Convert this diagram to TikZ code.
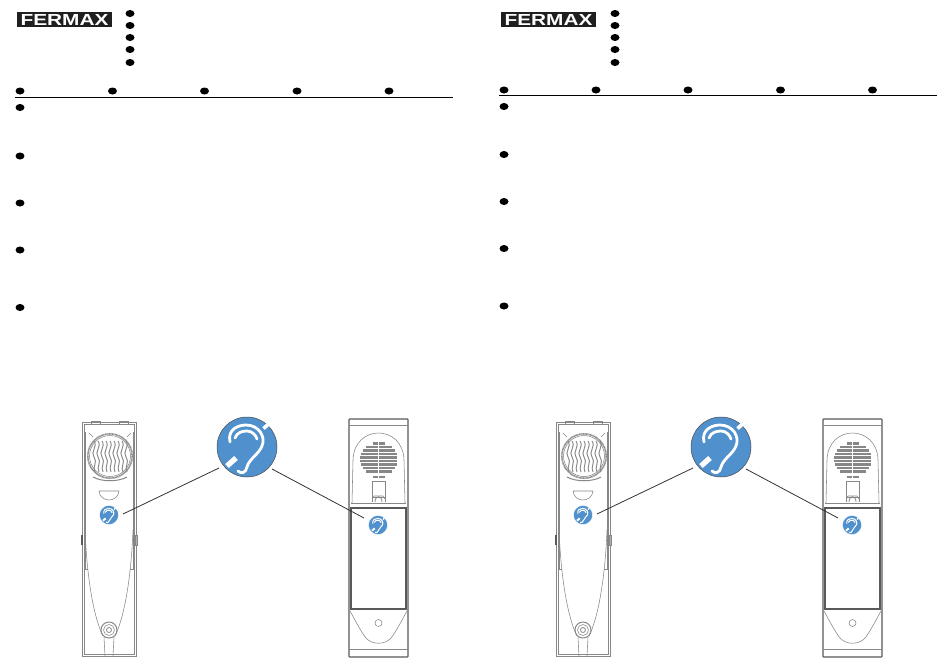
\documentclass[tikz,border=0pt]{standalone}
\usepackage{tikz}
\usepackage{fontspec}
\setsansfont{Liberation Sans}
\usetikzlibrary{calc,positioning,shapes.geometric}
\definecolor{earblue}{RGB}{79,144,205}
\definecolor{partgray}{RGB}{135,135,135}
\tikzset{
    dot/.style = {draw=none, fill=black, ellipse, inner sep=0pt, minimum width=9pt, minimum height=7pt},
    rule/.style = {draw, black, line width=.9pt},
    leader/.style = {draw, black!80, line width=.8pt},
    part/.style = {draw=partgray, line width=.55pt},
    thick part/.style = {draw=black!65, line width=1.1pt},
    bigear/.style = {draw=black!70, fill=earblue, circle, inner sep=0pt, minimum size=60pt, line width=.5pt},
    smallear/.style = {draw=white, fill=earblue, circle, inner sep=0pt, minimum size=19pt, line width=.3pt},
    logobox/.style = {fill=black!88, text=white, inner sep=0pt, minimum width=95pt, minimum height=15pt, font=\sffamily\bfseries\fontsize{16pt}{16pt}\selectfont}
}
% ear symbol, #1 = centre, #2 = scale
\newcommand{\earmark}[3]{
    \begin{scope}[shift={(#1)},scale=#2,draw=white,line width=#3,line cap=round]
        \draw (-17,-5) .. controls (-20,-18) and (-8,-22) .. (-1,-22) .. controls (12,-22) and (19,-10) .. (15,-1)
            .. controls (12,7) and (2,12) .. (0,20) .. controls (-1,26) and (-6,27) .. (-9,24);
        \draw (-12,-9) .. controls (-10,-15) and (-4,-16) .. (0,-16) .. controls (5,-16) and (9,-12) .. (10,-8);
        \draw[line cap=butt,line width=1.9*#3] (-20,19) -- (-11,11);
        \draw[line cap=butt,line width=1.3*#3] (16.5,-18.5) -- (21,-22.5);
    \end{scope}
}
% handset seen from the front
\newcommand{\handset}[1]{
    \begin{scope}[shift={(#1,0)}]
        \draw[part] (82,422) rectangle (136,656);
        \draw[part] (84,424) rectangle (134,654);
        \draw[part] (91,424) -- (91,421) -- (100,421) -- (100,424);
        \draw[part] (119,424) -- (119,421) -- (128,421) -- (128,424);
        \draw[part] (85,432) -- (85,569) (133,432) -- (133,569);
        \draw[part] (93,437) -- (89,433) (127,437) -- (131,433);
        % speaker
        \draw[part,line width=1.6pt,dash pattern=on .9pt off .5pt] (110,456) circle (22.2);
        \draw[part] (110,456) circle (20.5);
        \foreach \dx in {-16,-12,-8,-4,0,4,8,12,16}
            \draw[part,line width=.95pt] (110+\dx,441) .. controls (110+\dx+4,447) and (110+\dx-4,452) .. (110+\dx,457)
                .. controls (110+\dx+4,462) and (110+\dx-2,467) .. (110+\dx+1,472);
        \draw[part,line width=1pt] (93,477) .. controls (102,482) and (118,482) .. (127,477);
        \draw[part] (99,491) -- (119,491) .. controls (118,503) and (100,503) .. (99,491);
        % sides
        \draw[part] (85,530) .. controls (87,580) and (94,618) .. (103,636);
        \draw[part] (133,530) .. controls (131,580) and (124,618) .. (115,636);
        \draw[thick part] (82,535) -- (82,545);
        \draw[part,fill=black!30] (135,535) rectangle (137.5,545);
        \draw[part] (84,569) -- (88,569) (130,569) -- (134,569);
        % microphone
        \draw[part,line width=1pt] (109,630) circle (8);
        \draw[part] (109,630) circle (5.5);
        \draw[part,line width=.8pt] (109,630) circle (2.5);
        \draw[part] (104,637) -- (105,656) (114,637) -- (113,656);
    \end{scope}
}
% phone seen from the rear
\newcommand{\rearbox}[1]{
    \begin{scope}[shift={(#1,0)}]
        \draw[thick part,rounded corners=.7pt] (349,419) rectangle (408,657);
        \draw[part] (349,425) -- (408,425) (349,649) -- (408,649);
        \draw[part] (352,503) -- (353,460) .. controls (354,424) and (403,424) .. (404,460) -- (405,503);
        \draw[part,line width=.8pt] (351,503) -- (406,503);
        % grille
        \foreach \yy/\hw in {443.5/6,447/13,450.5/16,454/18,457.5/18.5,461/18.5,464.5/18,468/16,471.5/13,477/6}
            \draw[partgray,line width=2.2pt] (378.5-\hw,\yy) -- (378.5+\hw,\yy);
        \draw[white,line width=.8pt] (378.5,441) -- (378.5,479);
        % catch
        \draw[part] (372,481) rectangle (385,497);
        \draw[part] (372,499) -- (374,496) -- (383,496) -- (385,499);
        \draw[part] (372,497) -- (372,502) (385,497) -- (385,502);
        \draw[part,line width=.8pt] (375,502) .. controls (375,495) and (382,495) .. (382,502);
        % panel
        \draw[thick part] (351,508) rectangle (406,609);
        \draw[part] (350,611) .. controls (354,618) and (361,632) .. (366,638)
            .. controls (372,645) and (385,645) .. (391,638) .. controls (396,632) and (403,618) .. (407,611);
        \draw[part] (378.5,623) circle (3.5);
    \end{scope}
}
\begin{document}
\begin{tikzpicture}[x=1pt,y=-1pt]
    \useasboundingbox (0,0) rectangle (950,667);
    \fill[white] (0,0) rectangle (950,667);
    % left page, head
    \node [logobox] (logoL) at (64.5,19.5) {\scalebox{1.3}[1]{FERMAX}};
    \foreach \yy [count=\i] in {13.5,25.5,37.5,49.5,62.5}
        \node [dot] (topL\i) at (130,\yy) {};
    \foreach \xx [count=\i] in {20,112.5,204.5,297,389}
        \node [dot] (headL\i) at (\xx,91) {};
    \coordinate (ruleLa) at (15,97.5);
    \coordinate (ruleLb) at (453,97.5);
    \draw [rule] (ruleLa) -- (ruleLb);
    \foreach \yy [count=\i] in {107.5,156,203,250,307.5}
        \node [dot] (itemL\i) at (20,\yy) {};
    % right page, head
    \node [logobox] (logoR) at (548.5,19.5) {\scalebox{1.3}[1]{FERMAX}};
    \foreach \yy [count=\i] in {13.5,25.5,37.5,49.5,62.5}
        \node [dot] (topR\i) at (615,\yy) {};
    \foreach \xx [count=\i] in {504,596,688,780.5,872.5}
        \node [dot] (headR\i) at (\xx,90) {};
    \coordinate (ruleRa) at (499,95.5);
    \coordinate (ruleRb) at (937,95.5);
    \draw [rule] (ruleRa) -- (ruleRb);
    \foreach \yy [count=\i] in {106.5,154.5,201.5,248.5,306}
        \node [dot] (itemR\i) at (504,\yy) {};
    % drawings, left and right
    \handset{0}
    \handset{474}
    \rearbox{0}
    \rearbox{474}
    \foreach \dx/\side in {0/L,474/R} {
        \node [bigear] (big\side) at (247+\dx,447) {};
        \earmark{247+\dx,447}{1}{2.8pt}
        \node [smallear] (hand\side) at (109+\dx,515) {};
        \earmark{109+\dx,515}{.3}{1pt}
        \node [smallear] (rear\side) at (378+\dx,525) {};
        \earmark{378+\dx,525}{.3}{1pt}
        \coordinate (handend\side) at (123+\dx,514);
        \coordinate (rearend\side) at (364+\dx,518);
        \coordinate (bigout\side) at (219+\dx,468);
        \coordinate (bigin\side) at (272+\dx,469);
        \draw [leader] (bigout\side) -- (handend\side);
        \draw [leader] (bigin\side) -- (rearend\side);
    }
\end{tikzpicture}
\end{document}
